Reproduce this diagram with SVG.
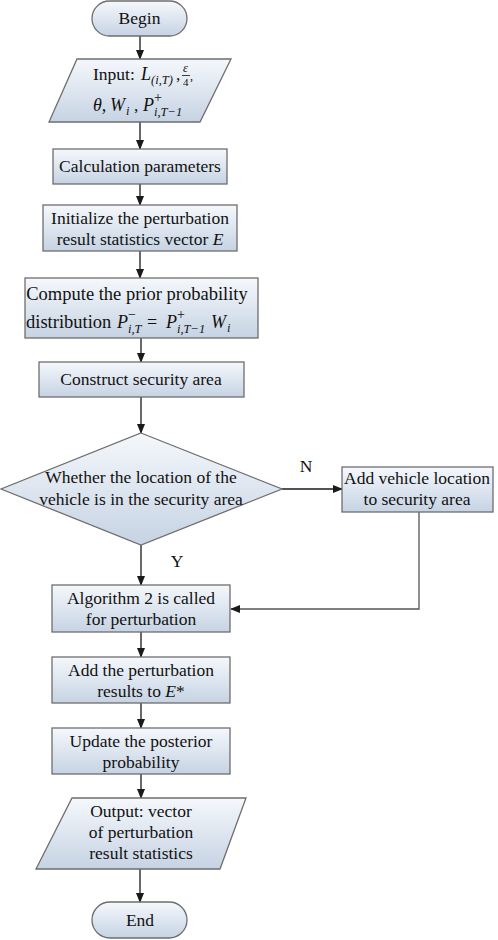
<svg xmlns="http://www.w3.org/2000/svg" width="498" height="940" viewBox="0 0 498 940">
<defs>
<linearGradient id="g" x1="0" y1="0" x2="0" y2="1">
<stop offset="0" stop-color="#f5f8fc"/>
<stop offset="1" stop-color="#c6d3e3"/>
</linearGradient>
<marker id="ah" markerWidth="10" markerHeight="8" refX="9" refY="4" orient="auto" markerUnits="userSpaceOnUse">
<path d="M0,0 L10,4 L0,8 Z" fill="#1a1a1a"/>
</marker>
<style>
.n{fill:url(#g);stroke:#6e6e6e;stroke-width:1.3}
.t{font-family:"Liberation Serif","Times New Roman",serif;font-size:17.5px;fill:#111;text-anchor:middle}
.m{font-family:"Liberation Serif","Times New Roman",serif;font-size:18px;font-style:italic;fill:#111}
.s{font-family:"Liberation Serif","Times New Roman",serif;font-size:12.5px;font-style:italic;fill:#111}
.r{font-family:"Liberation Serif","Times New Roman",serif;font-size:17.5px;fill:#111}
.c{fill:none;stroke:#1a1a1a;stroke-width:1.3}
.lbl{font-family:"Liberation Serif","Times New Roman",serif;font-size:17.5px;fill:#111;text-anchor:middle}
</style>
</defs>

<g id="connectors">
<line class="c" x1="140" y1="36" x2="140" y2="59" marker-end="url(#ah)"/>
<line class="c" x1="140" y1="122" x2="140" y2="149" marker-end="url(#ah)"/>
<line class="c" x1="140" y1="184" x2="140" y2="205" marker-end="url(#ah)"/>
<line class="c" x1="140" y1="251" x2="140" y2="278" marker-end="url(#ah)"/>
<line class="c" x1="141" y1="338" x2="141" y2="362" marker-end="url(#ah)"/>
<line class="c" x1="141" y1="397" x2="141" y2="433" marker-end="url(#ah)"/>
<line class="c" x1="282" y1="489" x2="342" y2="489" marker-end="url(#ah)"/>
<line class="c" x1="141" y1="545" x2="141" y2="585" marker-end="url(#ah)"/>
<polyline class="c" points="419,512 419,609 231,609" style="stroke:#555" marker-end="url(#ah)"/>
<line class="c" x1="141" y1="632" x2="141" y2="657" marker-end="url(#ah)"/>
<line class="c" x1="141" y1="703" x2="141" y2="728" marker-end="url(#ah)"/>
<line class="c" x1="141" y1="774" x2="141" y2="798" marker-end="url(#ah)"/>
<line class="c" x1="140" y1="869" x2="140" y2="902" marker-end="url(#ah)"/>
<text class="lbl" x="306" y="472">N</text>
<text class="lbl" x="177" y="567">Y</text>
</g>

<g id="begin">
<rect class="n" x="92" y="1" width="95" height="35" rx="17.5" ry="17.5"/>
<text class="t" x="139.5" y="24">Begin</text>
</g>

<g id="input">
<polygon class="n" points="77,59 231,59 200,122 49,122"/>
<text class="r" x="93" y="80">Input:</text>
<text class="m" x="141" y="80">L</text>
<text class="s" x="151" y="84">(i,T)</text>
<text class="r" x="176" y="80">,</text>
<text class="s" x="183" y="72">ε</text>
<line x1="182" y1="75.5" x2="190" y2="75.5" stroke="#111" stroke-width="0.8"/>
<text class="r" x="183" y="86" style="font-size:11px">4</text>
<text class="r" x="190" y="80" style="font-size:12px">,</text>
<text class="m" x="93" y="111">θ,</text>
<text class="m" x="110" y="111">W</text>
<text class="s" x="126" y="115">i</text>
<text class="r" x="134" y="111">,</text>
<text class="m" x="143" y="111">P</text>
<text class="s" x="154" y="102" style="font-style:normal;font-size:14px">+</text>
<text class="s" x="154" y="116">i,T−1</text>
</g>

<g id="calc">
<rect class="n" x="53" y="149" width="174" height="35"/>
<text class="t" x="140" y="172">Calculation parameters</text>
</g>

<g id="init">
<rect class="n" x="43" y="205" width="194" height="46"/>
<text class="t" x="140" y="224">Initialize the perturbation</text>
<text class="t" x="140" y="245">result statistics vector <tspan font-style="italic">E</tspan></text>
</g>

<g id="compute">
<rect class="n" x="25" y="278" width="233" height="60"/>
<text class="t" x="137" y="300" style="font-size:18.5px">Compute the prior probability</text>
<text class="r" x="26" y="328" style="font-size:18.5px">distribution</text>
<text class="m" x="117" y="328">P</text>
<text class="s" x="128" y="319" style="font-style:normal;font-size:14px">−</text>
<text class="s" x="128" y="333">i,T</text>
<text class="r" x="147" y="328" style="font-size:18px">=</text>
<text class="m" x="166" y="328">P</text>
<text class="s" x="177" y="319" style="font-style:normal;font-size:14px">+</text>
<text class="s" x="177" y="333">i,T−1</text>
<text class="m" x="211" y="328">W</text>
<text class="s" x="227" y="332">i</text>
</g>

<g id="construct">
<rect class="n" x="39" y="362" width="205" height="35"/>
<text class="t" x="141" y="385">Construct security area</text>
</g>

<g id="decision">
<polygon class="n" points="141,433 282,489 141,545 1,489"/>
<text class="t" x="141" y="483">Whether the location of the</text>
<text class="t" x="141" y="505">vehicle is in the security area</text>
</g>

<g id="addloc">
<rect class="n" x="342" y="467" width="151" height="45"/>
<text class="t" x="417" y="484">Add vehicle location</text>
<text class="t" x="417" y="505">to security area</text>
</g>

<g id="algo">
<rect class="n" x="52" y="585" width="178" height="47"/>
<text class="t" x="141" y="604">Algorithm 2 is called</text>
<text class="t" x="141" y="625">for perturbation</text>
</g>

<g id="addres">
<rect class="n" x="52" y="657" width="178" height="46"/>
<text class="t" x="141" y="676">Add the perturbation</text>
<text class="t" x="141" y="697">results to <tspan font-style="italic">E</tspan>*</text>
</g>

<g id="update">
<rect class="n" x="52" y="728" width="178" height="46"/>
<text class="t" x="141" y="747">Update the posterior</text>
<text class="t" x="141" y="768">probability</text>
</g>

<g id="output">
<polygon class="n" points="72,798 246,798 220,869 36,869"/>
<text class="t" x="141" y="817">Output: vector</text>
<text class="t" x="141" y="838">of perturbation</text>
<text class="t" x="141" y="859">result statistics</text>
</g>

<g id="end">
<rect class="n" x="92" y="902" width="95" height="36" rx="18" ry="18"/>
<text class="t" x="140" y="926">End</text>
</g>
</svg>
